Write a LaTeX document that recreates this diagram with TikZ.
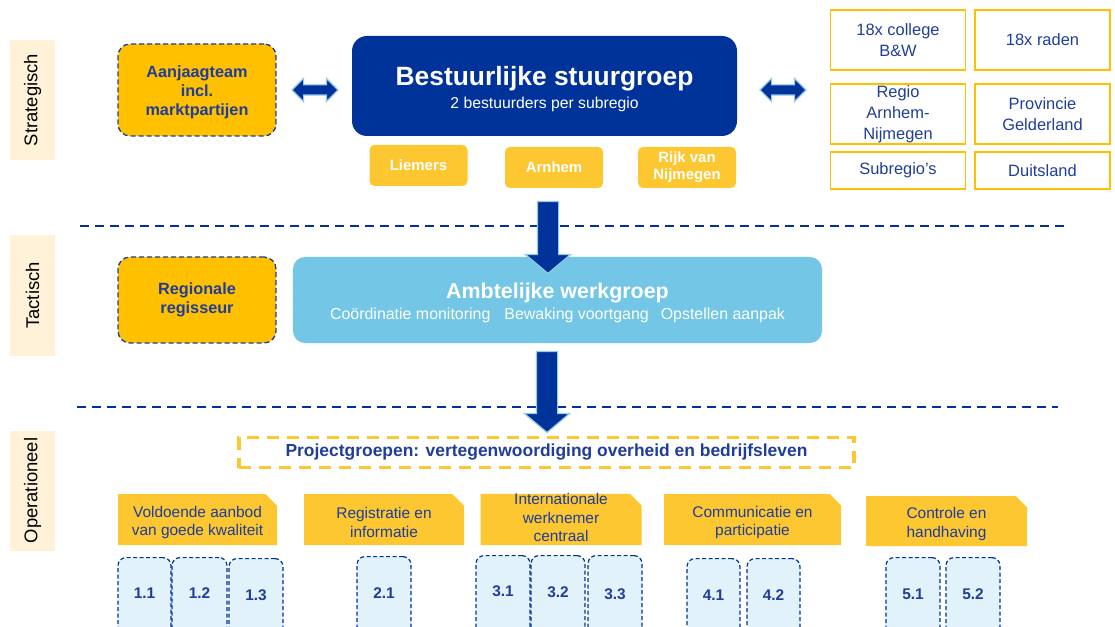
\documentclass[tikz,border=0pt]{standalone}
\usepackage{fontspec}
\setmainfont{Liberation Sans}
\usetikzlibrary{shapes.misc,shapes.arrows,calc}
\definecolor{navy}{RGB}{0,51,153}
\definecolor{tblue}{RGB}{31,61,153}
\definecolor{gold}{RGB}{255,192,0}
\definecolor{ylw}{RGB}{252,199,49}
\definecolor{sky}{RGB}{115,198,230}
\definecolor{pale}{RGB}{225,242,250}
\definecolor{cream}{RGB}{255,242,217}
\definecolor{aoutline}{RGB}{150,200,235}
\newcommand{\fsz}[2]{\fontsize{#1}{#2}\selectfont}
\newcommand{\tabstrut}{\rule{0pt}{17bp}}
\begin{document}
\begin{tikzpicture}[x=1bp,y=-1bp,
  lvl/.style={fill=cream, rotate=90, minimum width=120bp, minimum height=45bp, inner sep=0, font=\fsz{18.5}{20}},
  dashbox/.style={fill=gold, draw=tblue, dash pattern=on 5bp off 3bp, line width=1.3bp, rounded corners=12bp,
    text=tblue, font=\bfseries\fsz{16.3}{19}, align=center, minimum width=158bp, inner sep=0},
  subbox/.style={fill=ylw, rounded corners=5bp, text=white, font=\bfseries\fsz{15}{17}, align=center,
    minimum width=98bp, minimum height=41bp, inner sep=0},
  rbox/.style={draw=gold, line width=1.5bp, text=tblue, font=\fsz{16.5}{21}, align=center,
    minimum width=135bp, inner sep=0},
  dblarrow/.style={double arrow, fill=navy, draw=aoutline, line width=1.2bp, minimum height=46bp,
    inner xsep=0, inner ysep=4.5bp, double arrow head extend=6.5bp},
  downarrow/.style={single arrow, rotate=-90, fill=navy, draw=aoutline, line width=1.2bp,
    inner xsep=0, inner ysep=10bp, single arrow head extend=12bp, single arrow tip angle=100},
  sep/.style={draw=navy, line width=1.6bp, dash pattern=on 9bp off 6bp},
  tab/.style={chamfered rectangle, chamfered rectangle corners=north east, chamfered rectangle xsep=8bp,
    fill=ylw, text=tblue, font=\fsz{15.5}{18.5}, align=center, inner sep=0, minimum height=51bp},
  nbox/.style={fill=pale, draw=navy, dash pattern=on 4bp off 2.5bp, line width=1.2bp, rounded corners=8bp,
    minimum height=85bp, anchor=north, inner sep=0},
  num/.style={text=tblue, font=\bfseries\fsz{15.5}{18}, inner sep=0}
]
\useasboundingbox (0,0) rectangle (1115,627);
\clip (0,0) rectangle (1115,627);

% level labels
\node[lvl] (lvS) at (32.5,100) {Strategisch};
\node[lvl] (lvT) at (32.5,295.5) {Tactisch};
\node[lvl] (lvO) at (32.5,490.5) {Operationeel};

% strategic level
\node[dashbox, minimum height=92bp] (aanjaag) at (197,90) {\rule{0pt}{16.5bp}Aanjaagteam\\incl.\\marktpartijen};
\node[fill=navy, rounded corners=15bp, minimum width=385bp, minimum height=100bp, text=white, align=center,
  inner sep=0, font=\fsz{15.8}{23}]
  (stuur) at (544.5,86) {{\rule{0pt}{25bp}\bfseries\fsz{26.5}{30}Bestuurlijke stuurgroep}\\2 bestuurders per subregio};
\node[subbox] (liemers) at (418.5,165.5) {Liemers};
\node[subbox] (arnhem) at (554,167.5) {Arnhem};
\node[subbox] (rijk) at (687,167.5) {Rijk van\\Nijmegen};

\node[dblarrow] (dl) at (315,90) {};
\node[dblarrow] (dr) at (783,90) {};

\node[rbox, minimum height=60bp] (college) at (898,40) {18x college\\B\&W};
\node[rbox, minimum height=60bp] (raden) at (1042.5,40) {18x raden};
\node[rbox, minimum height=60bp] (regio) at (898,114) {Regio\\Arnhem-\\Nijmegen};
\node[rbox, minimum height=60bp] (prov) at (1042.5,114) {Provincie\\Gelderland};
\node[rbox, minimum height=37bp] (subr) at (898,170.5) {Subregio’s};
\node[rbox, minimum height=37bp] (duits) at (1042.5,170.5) {Duitsland};

% separators
\coordinate (s1a) at (80,226);
\coordinate (s1b) at (1065,226);
\draw[sep] (s1a) -- (s1b);
\coordinate (s2a) at (77,407);
\coordinate (s2b) at (1058,407);
\draw[sep] (s2a) -- (s2b);

% tactical level
\node[fill=sky, rounded corners=12bp, minimum width=529bp, minimum height=86bp, text=white, align=center,
  inner sep=0, font=\fsz{16}{21}]
  (werk) at (557.5,300) {{\rule{0pt}{21.5bp}\bfseries\fsz{21.5}{24}Ambtelijke werkgroep}\\Coördinatie monitoring\hspace{14bp}Bewaking voortgang\hspace{12bp}Opstellen aanpak};
\node[dashbox, minimum height=86bp] (regis) at (197,300) {Regionale\\regisseur};

\node[downarrow, minimum height=72bp] (a1) at (548,233) {};
\node[downarrow, minimum height=81bp] (a2) at (547,387.5) {};

% operational level
\node[draw=ylw, line width=3.5bp, dash pattern=on 12bp off 8bp, minimum width=615bp, minimum height=30bp,
  text=tblue, font=\bfseries\fsz{17.5}{20}, inner sep=0] (proj) at (546.5,452.5)
  {Projectgroepen: vertegenwoordiging overheid en bedrijfsleven};

\node[tab, minimum width=159bp] (t1) at (197.5,519.5) {\tabstrut Voldoende aanbod\\van goede kwaliteit};
\node[tab, minimum width=160bp] (t2) at (384,519.5) {\tabstrut Registratie en\\informatie};
\node[tab, minimum width=161bp, text height=44bp, text depth=-4bp] (t3) at (561,519.5) {Internationale\\werknemer\\centraal};
\node[tab, minimum width=177bp] (t4) at (752.5,519.5) {\tabstrut Communicatie en\\participatie};
\node[tab, minimum width=161bp, minimum height=50bp] (t5) at (946.5,521) {\tabstrut Controle en\\handhaving};

\node[nbox, minimum width=53bp] (b11) at (144.5,557) {};
\node[nbox, minimum width=55bp] (b12) at (199.5,557) {};
\node[nbox, minimum width=54bp] (b13) at (256,558) {};
\node[nbox, minimum width=54bp] (b21) at (384,556) {};
\node[nbox, minimum width=54bp] (b31) at (503,555) {};
\node[nbox, minimum width=54bp] (b32) at (558,555) {};
\node[nbox, minimum width=54bp] (b33) at (615,555) {};
\node[nbox, minimum width=53bp] (b41) at (713.5,558) {};
\node[nbox, minimum width=53bp] (b42) at (773.5,558) {};
\node[nbox, minimum width=54bp] (b51) at (913,557) {};
\node[nbox, minimum width=54bp] (b52) at (973,557) {};

\node[num] (n11) at ($(b11.north)+(0,36)$) {1.1};
\node[num] (n12) at ($(b12.north)+(0,36)$) {1.2};
\node[num] (n13) at ($(b13.north)+(0,37)$) {1.3};
\node[num] (n21) at ($(b21.north)+(0,37)$) {2.1};
\node[num] (n31) at ($(b31.north)+(0,36)$) {3.1};
\node[num] (n32) at ($(b32.north)+(0,37)$) {3.2};
\node[num] (n33) at ($(b33.north)+(0,39)$) {3.3};
\node[num] (n41) at ($(b41.north)+(0,37)$) {4.1};
\node[num] (n42) at ($(b42.north)+(0,37)$) {4.2};
\node[num] (n51) at ($(b51.north)+(0,37)$) {5.1};
\node[num] (n52) at ($(b52.north)+(0,37)$) {5.2};
\end{tikzpicture}
\end{document}
